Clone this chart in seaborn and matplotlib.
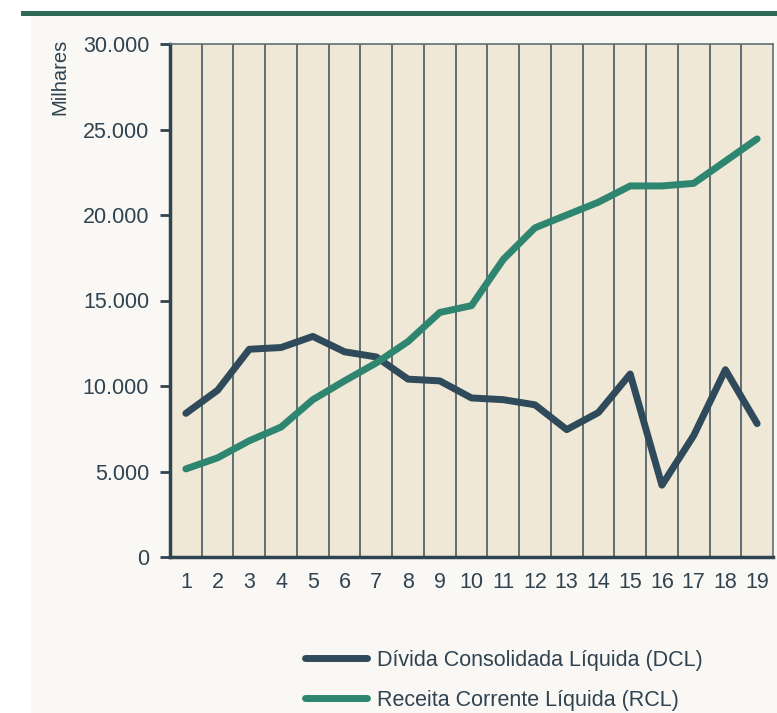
"""Divida consolidada liquida x receita corrente liquida."""

import matplotlib.pyplot as plt
import pandas as pd
import seaborn as sns
from matplotlib.patches import Rectangle
from matplotlib.ticker import FixedLocator, FuncFormatter

periodos = list(range(1, 20))
dcl = [8400, 9750, 12150, 12250, 12900, 12000, 11700, 10400, 10300, 9300,
       9200, 8900, 7450, 8450, 10700, 4200, 7100, 10950, 7800]
rcl = [5150, 5800, 6800, 7600, 9200, 10300, 11350, 12600, 14300, 14700,
       17400, 19250, 20000, 20750, 21700, 21700, 21850, 23150, 24450]
series = ["Dívida Consolidada Líquida (DCL)", "Receita Corrente Líquida (RCL)"]
cores = ["#2f4a5a", "#2e8570"]

data = pd.concat([
    pd.DataFrame({"periodo": periodos, "valor": dcl, "serie": series[0]}),
    pd.DataFrame({"periodo": periodos, "valor": rcl, "serie": series[1]}),
], ignore_index=True)

sns.set_theme(style="white")
plt.rcParams["font.family"] = ["Liberation Sans", "DejaVu Sans"]
texto = "#2f4350"

fig = plt.figure(figsize=(7.77, 7.13), dpi=100, facecolor="white")
fig.patches.append(Rectangle((31 / 777, 0), 1, 1 - 16 / 713, transform=fig.transFigure,
                             facecolor="#f9f8f4", edgecolor="none", zorder=-2))
fig.patches.append(Rectangle((21 / 777, 1 - 16 / 713), 1, 5 / 713, transform=fig.transFigure,
                             facecolor="#2d6a57", edgecolor="none", zorder=-1))

axis = fig.add_axes([170 / 777, 156 / 713, 603 / 777, 513 / 713])
axis.set_facecolor("#efe8d6")
sns.lineplot(data=data, x="periodo", y="valor", hue="serie", palette=cores,
             linewidth=5, ax=axis, legend=True, solid_capstyle="round")

axis.set_xlim(0.5, 19.5)
axis.set_ylim(0, 30000)
axis.set_yticks(range(0, 30001, 5000))
axis.yaxis.set_major_formatter(FuncFormatter(lambda v, _: f"{int(v):,}".replace(",", ".")))

# rotulos no centro das colunas, marcas de 3 em 3 nas bordas
axis.xaxis.set_major_locator(FixedLocator([p - 0.5 for p in range(1, 20, 3)]))
axis.xaxis.set_minor_locator(FixedLocator(periodos))
axis.xaxis.set_major_formatter(FuncFormatter(lambda v, _: ""))
axis.xaxis.set_minor_formatter(FuncFormatter(lambda v, _: f"{int(v)}"))
axis.tick_params(axis="x", which="major", length=6, width=2, color=texto, direction="inout")
axis.tick_params(axis="x", which="minor", length=0, pad=11, labelsize=15.5, labelcolor=texto)
axis.tick_params(axis="y", which="major", length=7, width=2, color=texto, left=True,
                 labelsize=15.5, labelcolor=texto, pad=8)

for borda in [p + 0.5 for p in range(1, 19)]:
    axis.axvline(borda, color="#44565f", linewidth=1.3, alpha=0.9, zorder=1)

for lado in ["left", "bottom"]:
    axis.spines[lado].set_color(texto)
    axis.spines[lado].set_linewidth(2.5)
for lado in ["top", "right"]:
    axis.spines[lado].set_color("#5f6e74")
    axis.spines[lado].set_linewidth(1.2)

axis.set_xlabel("")
axis.set_ylabel("")
fig.text(60 / 777, 1 - 39 / 713, "Milhares", rotation=90, ha="center", va="top",
         fontsize=14.5, color=texto)

handles, labels = axis.get_legend_handles_labels()
legend = axis.legend(handles, labels, loc="upper left", bbox_to_anchor=(305 / 777, 1 - 650 / 713),
                     bbox_transform=fig.transFigure, frameon=False, fontsize=15.5,
                     handlelength=2.9, handletextpad=0.45, labelspacing=0.88,
                     borderpad=0, borderaxespad=0, labelcolor=texto)
for line in legend.get_lines():
    line.set_linewidth(5)

fig.savefig("out.png", dpi=100, facecolor="white")
plt.close(fig)
